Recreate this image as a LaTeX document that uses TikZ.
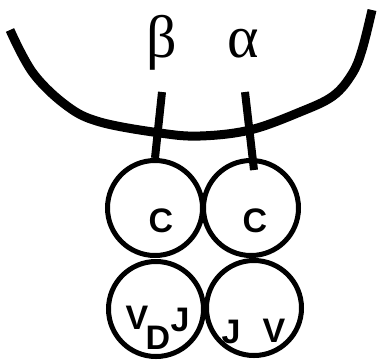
\documentclass[tikz,border=0pt]{standalone}
\usepackage{fontspec}
\setmainfont{Liberation Sans}
\newfontfamily\greekfont{Liberation Serif}
\begin{document}
\begin{tikzpicture}[x=1pt,y=-1pt,
  dom/.style={circle,draw,line width=5pt,minimum size=95pt,inner sep=0pt},
  seg/.style={font=\fontsize{34}{34}\selectfont\bfseries,inner sep=0pt,anchor=base},
  gr/.style={font=\greekfont\fontsize{60}{60}\selectfont,inner sep=0pt,anchor=base},
  stem/.style={line width=8pt}]
\useasboundingbox (0,0) rectangle (380,360);
% membrane
\draw[line width=9pt] plot[smooth,tension=0.6] coordinates {(10,30) (33,73) (67,106) (100,122) (160,133) (200,136) (250,130) (300,112) (333,96) (352,74) (362,50) (372,10)};
% labels
\node[gr] (beta) at (162,57) {β};
\node[gr] (alpha) at (243,57) {α};
% domains
\node[dom] (bc) at (155,208) {};
\node[dom] (ac) at (251,208) {};
\node[dom] (bv) at (156,309) {};
\node[dom] (av) at (254,308) {};
% stems
\coordinate (bt) at (162,92);
\coordinate (at) at (245,92);
\coordinate (ab) at (254,170);
\draw[stem] (bt) -- (bc.north);
\draw[stem] (at) -- (ab);
% segment letters
\node[seg] (c1) at (161,232) {C};
\node[seg] (c2) at (255,232) {C};
\node[seg] (v1) at (137,329) {V};
\node[seg] (d1) at (158,349) {D};
\node[seg] (j1) at (180,331) {J};
\node[seg] (j2) at (231,343) {J};
\node[seg] (v2) at (274,342) {V};
\end{tikzpicture}
\end{document}
